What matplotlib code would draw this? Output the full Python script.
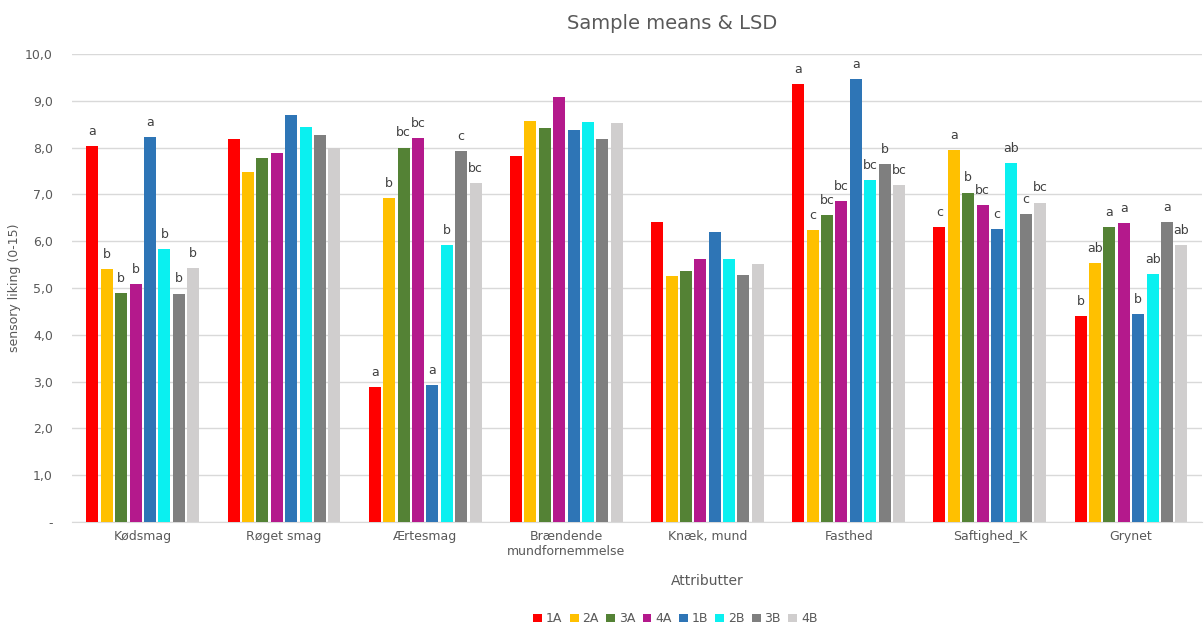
import numpy as np
import matplotlib
matplotlib.use('Agg')
import matplotlib.pyplot as plt

# kategorier og prøver
attributter = ['Kødsmag', 'Røget smag', 'Ærtesmag', 'Brændende\nmundfornemmelse',
               'Knæk, mund', 'Fasthed', 'Saftighed_K', 'Grynet']
proever = ['1A', '2A', '3A', '4A', '1B', '2B', '3B', '4B']

# middelværdier pr. prøve (en liste pr. attribut)
koedsmag = [8.03, 5.40, 4.89, 5.08, 8.22, 5.83, 4.88, 5.42]
roeget = [8.18, 7.47, 7.79, 7.89, 8.69, 8.45, 8.28, 8.00]
aertesmag = [2.88, 6.92, 8.00, 8.20, 2.92, 5.91, 7.92, 7.24]
braendende = [7.83, 8.57, 8.42, 9.08, 8.38, 8.55, 8.18, 8.53]
knaek = [6.41, 5.25, 5.36, 5.62, 6.20, 5.62, 5.27, 5.52]
fasthed = [9.36, 6.24, 6.56, 6.86, 9.46, 7.31, 7.65, 7.20]
saftighed = [6.30, 7.95, 7.04, 6.77, 6.26, 7.67, 6.58, 6.82]
grynet = [4.40, 5.53, 6.30, 6.39, 4.44, 5.30, 6.41, 5.92]

# LSD bogstaver
lsd_koedsmag = ['a', 'b', 'b', 'b', 'a', 'b', 'b', 'b']
lsd_roeget = [''] * 8
lsd_aertesmag = ['a', 'b', 'bc', 'bc', 'a', 'b', 'c', 'bc']
lsd_braendende = [''] * 8
lsd_knaek = [''] * 8
lsd_fasthed = ['a', 'c', 'bc', 'bc', 'a', 'bc', 'b', 'bc']
lsd_saftighed = ['c', 'a', 'b', 'bc', 'c', 'ab', 'c', 'bc']
lsd_grynet = ['b', 'ab', 'a', 'a', 'b', 'ab', 'a', 'ab']

data = np.array([koedsmag, roeget, aertesmag, braendende, knaek, fasthed, saftighed, grynet])
bogstaver = [lsd_koedsmag, lsd_roeget, lsd_aertesmag, lsd_braendende,
             lsd_knaek, lsd_fasthed, lsd_saftighed, lsd_grynet]

farver = ['#FF0000', '#FFC000', '#548235', '#B4198C', '#2E75B6', '#0AF0F0', '#7F7F7F', '#D0CECE']
tekst = '#595959'

fig = plt.figure(figsize=(12.04, 6.29), dpi=100)
ax = fig.add_axes([0.06, 0.170, 0.938, 0.744])

x = np.arange(len(attributter))
step = 0.102
w = 0.085
for i, p in enumerate(proever):
    pos = x + (i - 3.5) * step
    ax.bar(pos, data[:, i], width=w, color=farver[i], label=p, zorder=3)
    for j in range(len(attributter)):
        if bogstaver[j][i]:
            ax.text(pos[j], data[j, i] + 0.18, bogstaver[j][i], ha='center', va='bottom',
                    fontsize=9, color='#404040')

ax.set_xlim(-0.5, len(attributter) - 0.5)
ax.set_ylim(0, 10)
ax.set_yticks(np.arange(0, 11, 1))
ax.set_yticklabels(['-'] + ['%d,0' % v for v in range(1, 11)])
ax.set_xticks(x)
ax.set_xticklabels(attributter)
ax.tick_params(axis='both', length=0, labelsize=9, colors=tekst)
ax.tick_params(axis='x', pad=6)
ax.tick_params(axis='y', pad=14)
ax.grid(axis='y', color='#D9D9D9', linewidth=1, zorder=0)
for s in ['top', 'right', 'left']:
    ax.spines[s].set_visible(False)
ax.spines['bottom'].set_color('#D9D9D9')

ax.set_ylabel('sensory liking (0-15)', fontsize=9, color=tekst)
ax.yaxis.set_label_coords(-0.045, 0.5)
ax.set_xlabel('Attributter', fontsize=10, color=tekst)
ax.xaxis.set_label_coords(0.562, -0.112)
fig.text(0.558, 0.962, 'Sample means & LSD', ha='center', va='center', fontsize=14, color=tekst)

fig.legend(loc='center', bbox_to_anchor=(0.561, 0.016), ncol=8, frameon=False,
           fontsize=9, handlelength=0.7, handleheight=0.7, handletextpad=0.3,
           columnspacing=0.6, labelcolor=tekst)

fig.savefig('out.png', dpi=100)
